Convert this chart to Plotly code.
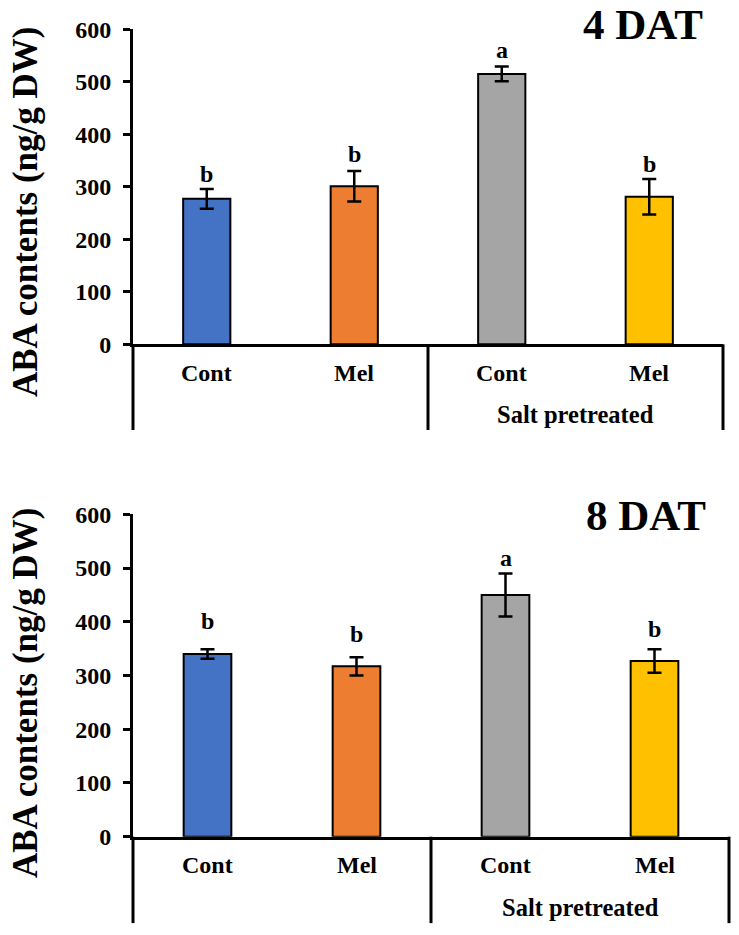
import plotly.graph_objects as go

categories = ["Cont", "Mel", "Cont", "Mel"]
group_label = "Salt pretreated"
colors = ["#4472C4", "#ED7D31", "#A5A5A5", "#FFC000"]

dat4_values = [277, 301, 515, 281]
dat4_errors = [19, 29, 14, 34]
dat4_letters = ["b", "b", "a", "b"]

dat8_values = [340, 317, 450, 327]
dat8_errors = [9, 17, 40, 22]
dat8_letters = ["b", "b", "a", "b"]

y_ticks = [0, 100, 200, 300, 400, 500, 600]
y_title = "ABA contents (ng/g DW)"
panel_titles = ["4 DAT", "8 DAT"]

W, H = 739, 935
FONT = "Liberation Serif"


def px_x(p):
    return p / W


def px_y(p):
    return 1 - p / H


fig = go.Figure()

panels = [
    dict(vals=dat4_values, errs=dat4_errors, letters=dat4_letters, title=panel_titles[0],
         lshift=[0, 2, 2, 0],
         xd=[px_x(133), px_x(723)], yd=[px_y(344.3), px_y(29.3)], ext=-0.272,
         lab1=-0.091, lab2=-0.224, tx=643, ty=25, ylab_y=212, xa="x", ya="y"),
    dict(vals=dat8_values, errs=dat8_errors, letters=dat8_letters, title=panel_titles[1],
         lshift=[13, 8, 0, 5],
         xd=[px_x(133), px_x(729)], yd=[px_y(836.7), px_y(514.3)], ext=-0.268,
         lab1=-0.088, lab2=-0.221, tx=646, ty=515, ylab_y=693, xa="x2", ya="y2"),
]

xpos = list(range(len(categories)))
annotations = []
shapes = []
for k, p in enumerate(panels):
    fig.add_trace(go.Bar(
        x=xpos, y=p["vals"], width=0.32,
        marker=dict(color=colors, line=dict(color="black", width=2)),
        error_y=dict(type="data", array=p["errs"], visible=True, color="black",
                     thickness=2.5, width=7),
        xaxis=p["xa"], yaxis=p["ya"], showlegend=False, hoverinfo="skip",
    ))
    xr = p["xa"]
    yr = p["ya"]
    # letters
    for i, (v, e, l) in enumerate(zip(p["vals"], p["errs"], p["letters"])):
        annotations.append(dict(x=i, y=v + e, xref=xr, yref=yr, text="<b>%s</b>" % l,
                                showarrow=False, yanchor="bottom", yshift=p["lshift"][i],
                                font=dict(family=FONT, size=24, color="black")))
    # category labels
    for i, c in enumerate(categories):
        annotations.append(dict(x=i, y=p["lab1"], xref=xr, yref=yr + " domain",
                                text="<b>%s</b>" % c, showarrow=False, yanchor="middle",
                                font=dict(family=FONT, size=24, color="black")))
    annotations.append(dict(x=2.5, y=p["lab2"], xref=xr, yref=yr + " domain",
                            text="<b>%s</b>" % group_label, showarrow=False, yanchor="middle",
                            font=dict(family=FONT, size=24.5, color="black")))
    # panel title
    annotations.append(dict(x=px_x(p["tx"]), y=px_y(p["ty"]), xref="paper", yref="paper",
                            text="<b>%s</b>" % p["title"], showarrow=False,
                            xanchor="center", yanchor="middle",
                            font=dict(family=FONT, size=43, color="black")))
    # y title
    annotations.append(dict(x=px_x(25), y=px_y(p["ylab_y"]), xref="paper", yref="paper",
                            text="<b>%s</b>" % y_title, showarrow=False, textangle=-90,
                            xanchor="center", yanchor="middle",
                            font=dict(family=FONT, size=35, color="black")))
    # structural lines: y-axis extension and group dividers
    for xd in [0.0, 0.5, 1.0]:
        shapes.append(dict(type="line", xref=xr + " domain", yref=yr + " domain",
                           x0=xd, x1=xd, y0=0, y1=p["ext"],
                           line=dict(color="black", width=3)))

axis_common_x = dict(range=[-0.5, 3.5], showgrid=False, zeroline=False, showline=True,
                     linecolor="black", linewidth=3, ticks="", showticklabels=False,
                     fixedrange=True)
axis_common_y = dict(range=[0, 600], tickvals=y_ticks, showgrid=False, zeroline=False,
                     showline=True, linecolor="black", linewidth=3, ticks="outside",
                     ticklen=7, tickwidth=2.5, tickcolor="black", ticklabelstandoff=7,
                     tickfont=dict(family=FONT, size=24, color="black", weight="bold"),
                     fixedrange=True, automargin=False)

fig.update_layout(
    width=W, height=H,
    margin=dict(l=0, r=0, t=0, b=0, autoexpand=False),
    paper_bgcolor="white", plot_bgcolor="white",
    xaxis=dict(domain=panels[0]["xd"], anchor="y", **axis_common_x),
    yaxis=dict(domain=panels[0]["yd"], anchor="x", **axis_common_y),
    xaxis2=dict(domain=panels[1]["xd"], anchor="y2", **axis_common_x),
    yaxis2=dict(domain=panels[1]["yd"], anchor="x2", **axis_common_y),
    annotations=annotations,
    shapes=shapes,
)

fig.write_html("out.html", config={"displayModeBar": False},
               post_script="document.body.style.margin='0px';")
